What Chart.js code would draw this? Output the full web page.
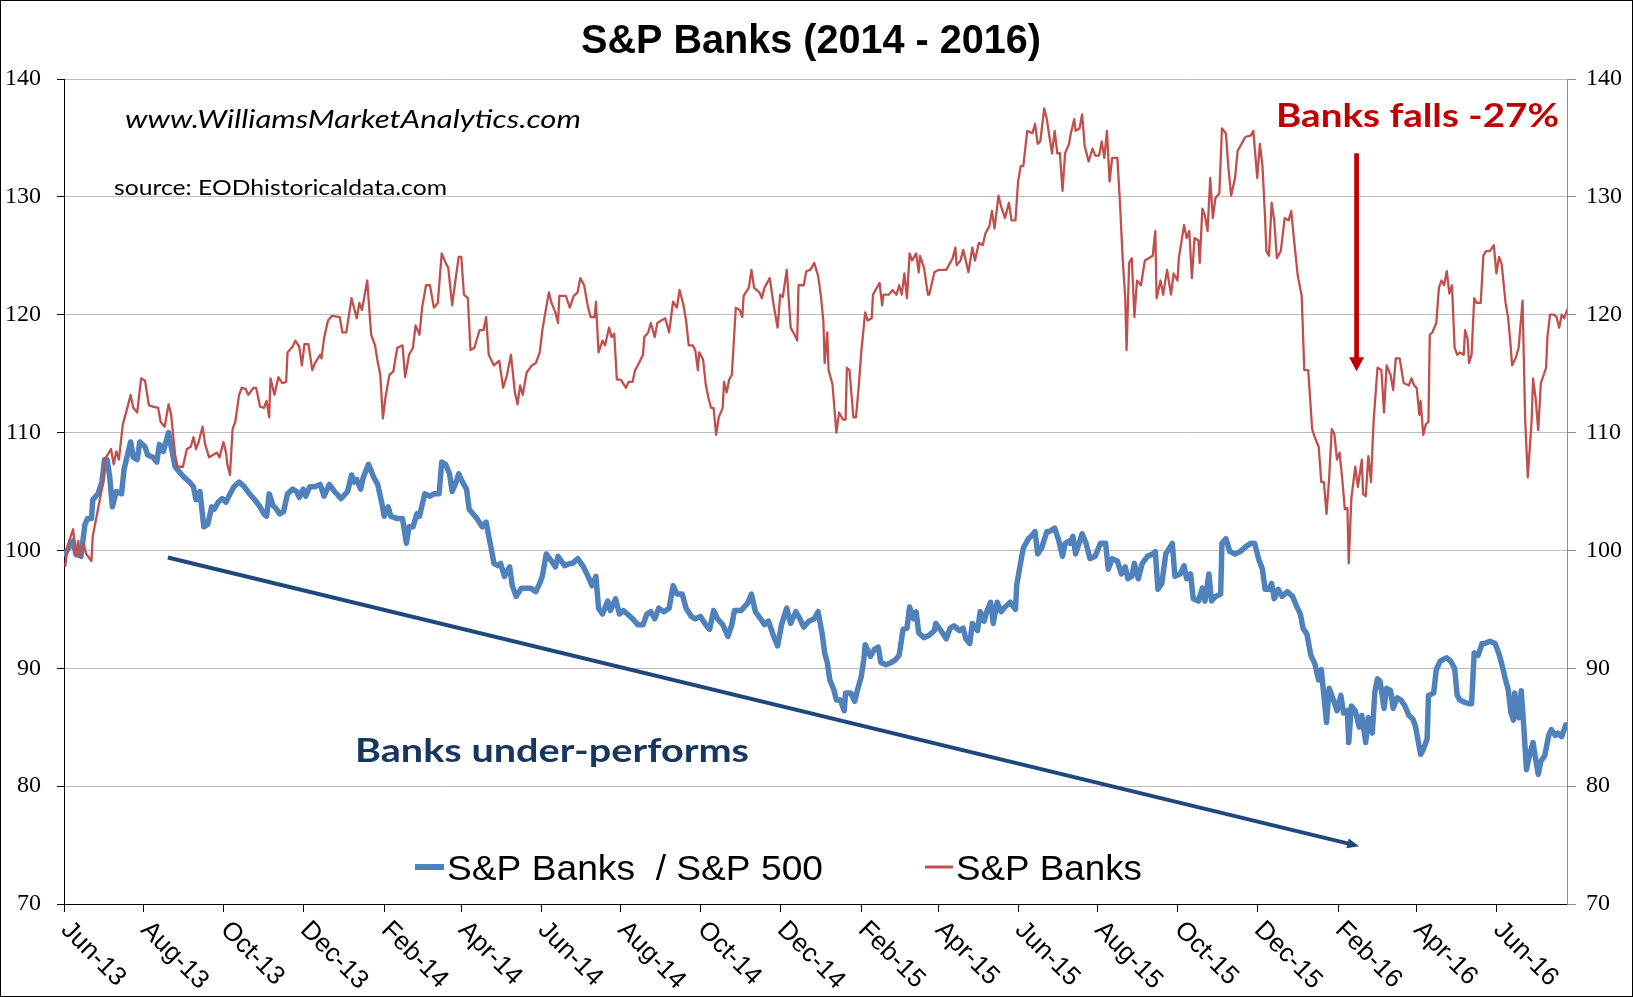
<!DOCTYPE html>
<html>
<head>
<meta charset="utf-8">
<title>S&amp;P Banks (2014 - 2016)</title>
<script src="https://cdn.jsdelivr.net/npm/chart.js@4.4.1/dist/chart.umd.min.js"></script>
<style>
  html, body { margin: 0; padding: 0; background: #fff; }
  canvas { display: block; }
</style>
</head>
<body>
<canvas id="banks_chart" width="1633" height="997"></canvas>
<script>
// x values are day numbers counted from 1 Jun 2013
var tickDays = [0, 61, 122, 183, 245, 304, 365, 426, 487, 548, 610, 669, 730, 791, 852, 913, 975, 1035, 1096];
var tickLabels = ['Jun-13', 'Aug-13', 'Oct-13', 'Dec-13', 'Feb-14', 'Apr-14', 'Jun-14', 'Aug-14', 'Oct-14', 'Dec-14',
  'Feb-15', 'Apr-15', 'Jun-15', 'Aug-15', 'Oct-15', 'Dec-15', 'Feb-16', 'Apr-16', 'Jun-16'];
var dayMax = 1150;
var yTicks = [70, 80, 90, 100, 110, 120, 130, 140];

var ratioLabel = 'S&P Banks  / S&P 500';
var banksLabel = 'S&P Banks';

// S&P Banks / S&P 500 (blue, thick)
var ratioDays = [
  1,4,7,9,13,16,18,21,22,26,29,31,33,35,37,40,44,46,49,51,53,56,58,62,64,68,71,73,76,80,82,85,88,92,96,99,101,104,107,110,113,115,118,121,124,127,130,134,138,142,146,150,153,155,157,160,162,165,168,171,175,178,180,183,185,188,192,196,
  199,203,207,212,217,220,222,224,227,229,233,237,240,243,245,248,250,255,259,262,264,267,270,272,276,280,283,287,289,292,295,297,300,302,305,308,310,313,316,320,323,325,327,329,332,334,337,341,343,346,350,353,357,361,364,366,369,373,376,378,383,387,
  389,393,397,401,404,407,409,412,416,418,422,425,428,431,435,439,443,446,449,452,455,459,463,466,469,473,476,480,483,487,491,494,497,500,504,508,511,513,518,523,526,529,533,536,539,543,546,549,553,556,560,563,566,570,574,577,
  580,582,584,586,589,591,594,597,598,602,605,607,610,612,613,617,620,623,625,629,633,636,639,642,645,647,650,652,654,658,662,666,667,671,675,678,681,685,688,690,693,695,699,701,704,706,709,711,714,717,720,724,728,729,732,734,738,740,743,745,748,752,754,758,761,764,766,769,
  770,772,774,779,782,785,789,793,797,799,802,806,809,812,814,817,819,822,825,829,833,835,837,840,843,848,850,854,857,859,862,864,868,871,873,876,878,881,885,886,889,892,896,900,904,908,911,914,917,919,922,924,926,929,932,936,940,943,946,948,951,954,957,960,
  962,966,968,972,974,977,979,982,983,985,988,991,993,996,998,1001,1003,1005,1007,1010,1012,1015,1017,1020,1023,1026,1029,1032,1034,1038,1040,1043,1044,1048,1050,1053,1056,1058,1061,1064,1066,1068,1072,1075,1077,1079,1082,1085,1087,1091,1095,1098,1100,1103,1105,1107,1109,1110,1113,1115,1117,1119,1121,1124,1126,1128,1130,1133,1136,1138,1141,1143,1146,1149
];
var ratioValues = [
  99.7,100.3,100.8,99.7,99.5,102.2,102.7,102.7,104.3,104.8,105.8,107.7,107.7,106.2,103.7,105.0,104.8,106.9,108.3,109.2,107.9,107.7,109.2,108.8,108.1,107.9,107.5,109.0,108.4,110.0,108.8,107.1,106.7,106.2,105.8,105.4,104.3,105.0,102.0,102.2,103.7,103.5,104.1,104.4,104.1,104.8,105.4,105.8,105.4,104.8,104.3,103.7,103.1,102.9,104.8,103.8,103.6,103.1,103.3,104.8,105.2,105.0,104.5,105.2,104.6,105.4,105.4,105.6,
  104.6,105.6,105.0,104.4,105.0,106.4,105.8,106.0,105.2,106.2,107.3,106.2,105.6,104.1,102.9,103.7,102.9,102.7,102.7,100.6,102.0,102.0,103.1,102.9,104.8,104.6,104.8,104.8,107.5,107.3,106.5,105.0,105.8,106.5,105.8,105.2,103.5,103.1,102.7,102.0,102.4,101.2,100.1,98.9,98.7,98.9,97.8,98.6,97.0,96.1,96.8,96.8,96.8,96.5,97.2,97.8,99.7,99.1,98.6,99.5,98.7,98.9,
  98.9,99.3,98.7,97.8,97.0,97.8,95.1,94.6,95.7,94.9,95.9,94.6,94.9,94.6,94.2,93.7,93.7,94.6,94.8,94.2,95.1,94.8,95.1,97.0,96.3,96.3,95.1,94.4,94.2,94.4,93.7,93.3,94.9,94.2,93.7,92.7,93.7,94.9,94.9,95.5,96.3,94.8,94.2,93.7,94.0,92.7,91.9,93.7,95.1,93.8,94.8,94.2,93.5,94.0,94.2,94.8,
  93.0,91.3,90.5,89.0,88.2,87.3,87.3,86.4,87.9,87.9,87.2,88.1,89.3,90.8,92.0,91.0,91.6,91.8,90.5,90.3,90.5,90.7,91.1,93.3,93.4,95.2,94.2,94.8,93.0,92.6,92.8,93.2,93.8,93.2,92.5,93.4,93.6,93.2,93.4,92.5,92.1,93.8,93.2,94.8,94.0,94.8,95.6,93.8,95.6,94.8,95.2,95.6,95.0,97.1,99.0,100.2,101.0,101.2,101.6,99.7,100.2,101.6,101.6,101.9,100.9,99.5,100.6,100.8,
  100.6,101.2,99.7,101.4,100.6,99.3,99.5,100.6,100.6,98.4,99.3,99.1,98.0,98.6,97.6,97.8,98.9,97.6,98.9,99.5,99.7,99.9,96.7,97.2,99.7,100.6,97.8,98.0,98.7,97.6,98.0,95.9,95.7,96.8,95.7,98.0,95.7,96.1,96.3,100.6,101.0,99.9,99.7,99.9,100.3,100.6,100.6,99.3,98.4,96.7,96.7,97.2,95.9,96.7,96.1,96.5,96.1,95.3,94.6,93.4,92.9,91.1,90.4,89.0,
  89.9,85.4,88.3,87.1,86.4,87.7,86.2,86.4,83.7,86.8,86.4,85.0,86.0,83.7,85.8,84.5,88.0,89.1,88.9,86.6,88.3,88.1,86.6,87.5,87.3,86.8,86.0,85.7,85.1,82.7,83.1,84.0,87.7,87.9,89.9,90.6,90.8,90.9,90.6,90.0,87.7,87.3,87.1,87.0,87.0,91.3,91.1,92.1,92.1,92.3,92.1,91.2,90.4,89.0,88.2,86.3,85.6,87.9,85.8,88.1,84.9,81.4,82.5,83.7,82.3,81.0,82.1,82.6,84.3,84.8,84.3,84.5,84.2,85.2
];

// S&P Banks (red, thin)
var banksDays = [
  1,3,7,9,11,12,15,17,21,22,26,30,31,36,38,40,42,45,48,51,53,56,59,62,65,68,72,74,77,80,82,85,87,91,94,97,99,101,103,106,108,111,114,117,119,122,124,125,127,129,131,134,136,139,141,145,147,150,153,155,157,158,161,164,167,170,171,175,177,180,182,184,187,190,192,196,
  197,199,202,205,211,213,216,220,224,226,228,232,235,238,240,242,244,246,249,252,255,259,261,264,267,269,272,274,277,280,283,286,289,292,294,297,299,302,304,306,309,311,314,318,321,323,325,329,333,336,339,342,345,347,349,351,354,358,361,364,366,371,373,376,378,379,384,387,
  390,393,395,398,401,403,406,407,409,412,414,417,419,421,423,426,430,432,435,437,440,443,444,447,449,452,454,457,460,463,466,469,471,474,476,478,481,483,485,486,489,491,493,495,497,499,501,504,505,507,509,511,513,514,517,519,520,524,526,528,532,534,536,540,543,546,548,550,553,556,559,561,562,566,568,571,574,577,
  579,581,582,584,585,588,590,591,593,596,598,599,601,604,606,608,610,613,615,618,619,624,626,627,631,634,637,639,641,643,645,647,649,652,654,655,658,661,662,666,669,675,677,680,682,683,686,688,690,692,695,697,700,703,705,708,710,712,715,717,720,723,725,728,730,732,734,737,741,743,745,747,750,752,754,756,758,760,762,764,766,769,
  770,773,774,777,779,781,784,787,789,792,794,796,798,800,802,806,808,810,812,813,815,817,819,821,824,827,830,833,835,836,839,841,844,847,849,852,853,857,859,861,863,865,868,869,871,873,875,877,879,881,884,886,889,891,893,896,898,900,904,908,910,913,915,917,919,920,922,924,926,928,931,934,937,939,941,944,947,949,952,955,957,960,
  962,964,966,968,970,972,974,976,978,980,982,983,985,988,990,993,994,996,998,1000,1002,1005,1008,1010,1012,1015,1017,1019,1022,1025,1029,1031,1033,1035,1037,1038,1040,1042,1044,1045,1047,1050,1052,1054,1056,1058,1060,1062,1064,1066,1068,1071,1072,1074,1075,1077,1079,1081,1084,1086,1088,1091,1094,1096,1098,1100,1103,1105,1107,1108,1111,1113,1116,1118,1120,1123,1124,1126,1128,1130,1134,1135,1137,1140,1142,1144,1146,1148,1150
];
var banksValues = [
  98.7,100.5,101.8,99.5,100.8,99.5,100.6,99.7,99.1,101.2,103.5,105.8,107.7,108.6,107.3,108.4,107.7,110.7,111.9,113.2,112.1,111.7,114.6,114.4,112.3,112.2,112.1,110.9,110.5,112.4,111.5,108.1,107.1,107.1,108.6,108.8,109.6,108.6,109.2,110.5,109.0,107.9,108.1,108.3,107.9,109.2,108.3,107.3,106.4,110.3,110.9,113.2,113.8,113.7,113.2,113.8,113.8,112.2,112.1,112.7,111.3,114.6,113.2,114.7,114.2,114.3,116.8,117.3,117.8,117.3,115.7,117.5,117.5,115.3,115.9,116.6,
  116.3,118.0,119.5,119.9,119.8,118.5,118.5,121.4,119.7,121.0,120.4,122.9,118.3,117.4,116.0,114.9,111.2,113.0,114.9,115.2,117.2,117.4,114.7,116.6,117.2,119.1,118.3,120.6,122.5,122.5,120.6,121.0,125.2,124.4,124.0,120.8,122.5,124.9,124.9,121.7,121.4,117.0,117.2,118.7,118.7,119.8,116.6,115.7,116.1,113.8,114.9,116.6,113.4,112.4,114.0,113.2,115.1,115.7,115.9,116.8,118.7,121.9,121.0,120.2,119.3,121.6,121.6,120.6,
  121.6,121.9,123.1,122.5,120.6,119.8,119.8,121.1,116.8,117.8,117.4,118.9,118.1,118.4,114.5,114.5,113.8,114.3,114.3,115.3,115.9,116.6,118.1,118.5,119.3,118.1,119.3,119.5,119.7,118.5,121.1,120.6,122.1,120.8,119.5,117.4,117.4,117.0,115.3,116.8,116.2,114.1,113.0,112.1,112.1,109.8,111.3,112.1,114.3,113.4,114.5,114.9,118.7,120.6,120.4,119.8,121.6,122.3,123.8,122.3,121.9,121.4,122.3,123.1,120.8,118.9,121.7,121.5,123.8,118.9,118.3,117.8,122.5,122.5,123.7,123.8,124.4,123.3,
  121.7,119.5,115.9,118.5,115.3,114.1,111.3,110.0,111.7,111.1,111.1,115.5,115.3,111.3,111.3,113.8,116.8,120.2,119.5,119.7,121.7,122.7,120.8,121.7,121.7,122.1,121.7,122.5,121.7,123.5,121.4,125.2,124.6,125.2,123.6,125.0,124.0,121.7,121.7,123.6,123.8,123.8,124.2,124.8,125.7,124.2,124.6,125.5,124.6,123.6,125.7,124.6,126.1,125.9,126.9,127.5,128.8,127.3,130.1,129.2,128.2,129.5,128.0,128.0,131.3,132.6,132.6,135.6,135.4,136.2,134.5,134.7,137.5,136.6,135.1,133.7,135.6,133.7,133.7,130.5,133.7,134.5,
  135.2,136.6,135.6,135.8,137.0,134.3,133.0,134.1,133.5,133.5,134.7,133.3,135.6,131.3,133.3,133.3,129.4,124.8,121.4,117.0,124.4,124.8,119.8,122.9,122.5,124.6,124.8,125.0,127.1,121.4,122.9,121.7,123.8,121.7,123.5,122.9,124.8,127.6,126.5,127.1,123.1,126.5,126.3,124.4,129.0,128.4,127.1,131.6,128.2,129.9,130.3,135.8,135.4,132.4,130.1,131.6,133.9,134.3,135.1,135.2,135.6,131.6,134.5,132.6,128.2,125.4,125.0,129.5,128.0,124.8,125.4,128.2,128.0,128.8,126.5,123.3,121.6,115.3,115.3,110.3,109.6,108.8,
  105.8,105.8,103.1,106.1,110.3,109.9,107.7,108.3,106.1,103.5,103.6,98.9,104.4,107.1,105.4,107.7,104.8,104.6,108.0,105.8,110.9,115.5,115.3,111.7,115.7,114.9,113.6,116.3,116.3,114.2,114.0,114.6,114.0,113.8,111.5,112.7,109.8,110.7,110.9,118.3,118.5,119.3,122.3,122.9,122.5,123.7,121.8,122.5,117.2,116.6,116.8,116.6,118.7,117.9,115.9,116.6,121.4,121.0,121.0,125.0,125.4,125.4,125.9,123.5,124.9,124.3,121.0,119.7,117.2,115.7,116.4,117.2,121.2,111.1,106.2,111.1,114.6,112.9,110.2,114.2,115.5,118.1,120.0,120.0,119.8,118.9,120.0,119.7,120.4
];

// arrow anchors as [day, value]
var trendFrom = [79.5, 99.4];
var trendTo = [991, 74.9];
var fallFrom = [989, 133.7];
var fallTo = [989, 115.2];

function to_points(days, values)
{
  var pts = [];
  for (var i = 0; i < days.length; i++)
    pts.push({x: days[i], y: values[i]});
  return pts;
}

// draw text squeezed/stretched to a given width
function fit_text(ctx, text, font, color, x, baseline, width)
{
  ctx.save();
  ctx.font = font;
  ctx.fillStyle = color;
  ctx.textAlign = 'left';
  ctx.textBaseline = 'alphabetic';
  var w = ctx.measureText(text).width;
  ctx.translate(x, baseline);
  ctx.scale(width / w, 1);
  ctx.fillText(text, 0, 0);
  ctx.restore();
}

function draw_arrow(ctx, x1, y1, x2, y2, lw, headLen, headHalf, color)
{
  var dx = x2 - x1, dy = y2 - y1;
  var len = Math.sqrt(dx * dx + dy * dy);
  var ux = dx / len, uy = dy / len;
  var bx = x2 - ux * headLen, by = y2 - uy * headLen;
  ctx.save();
  ctx.strokeStyle = color;
  ctx.fillStyle = color;
  ctx.lineWidth = lw;
  ctx.lineCap = 'butt';
  ctx.beginPath();
  ctx.moveTo(x1, y1);
  ctx.lineTo(bx + ux, by + uy);
  ctx.stroke();
  ctx.beginPath();
  ctx.moveTo(x2, y2);
  ctx.lineTo(bx - uy * headHalf, by + ux * headHalf);
  ctx.lineTo(bx + uy * headHalf, by - ux * headHalf);
  ctx.closePath();
  ctx.fill();
  ctx.restore();
}

var decor = {
  id: 'decor',
  beforeDraw: function (chart)
  {
    var ctx = chart.ctx;
    ctx.save();
    ctx.fillStyle = '#fff';
    ctx.fillRect(0, 0, chart.width, chart.height);
    ctx.restore();
  },
  afterDatasetsDraw: function (chart)
  {
    var ctx = chart.ctx;
    var xs = chart.scales.x, ys = chart.scales.y;
    draw_arrow(ctx, xs.getPixelForValue(trendFrom[0]), ys.getPixelForValue(trendFrom[1]),
      xs.getPixelForValue(trendTo[0]), ys.getPixelForValue(trendTo[1]), 4, 12, 5, '#1F497D');
    draw_arrow(ctx, xs.getPixelForValue(fallFrom[0]), ys.getPixelForValue(fallFrom[1]),
      xs.getPixelForValue(fallTo[0]), ys.getPixelForValue(fallTo[1]), 4.7, 14, 7.5, '#C00000');
  },
  afterDraw: function (chart)
  {
    var ctx = chart.ctx;
    var xs = chart.scales.x;
    var area = chart.chartArea;

    // rotated month labels
    ctx.save();
    ctx.font = '26px "Liberation Sans", Arial, sans-serif';
    ctx.fillStyle = '#000';
    ctx.textAlign = 'left';
    ctx.textBaseline = 'alphabetic';
    for (var i = 0; i < tickDays.length; i++)
    {
      var px = xs.getPixelForValue(tickDays[i]);
      ctx.save();
      ctx.translate(px - 4, area.bottom + 27);
      ctx.rotate(Math.PI / 4);
      ctx.fillText(tickLabels[i], 0, 0);
      ctx.restore();
    }
    ctx.restore();

    fit_text(ctx, 'S&P Banks (2014 - 2016)', 'bold 40px "Liberation Sans", Arial, sans-serif', '#000', 581, 53, 460);
    fit_text(ctx, 'www.WilliamsMarketAnalytics.com', 'italic 25px Lato, "Open Sans", sans-serif', '#000', 125, 128, 456);
    fit_text(ctx, 'source: EODhistoricaldata.com', '21px Lato, "Open Sans", sans-serif', '#000', 114, 195, 333);
    fit_text(ctx, 'Banks falls -27%', 'bold 33px Lato, "Open Sans", sans-serif', '#C00000', 1276, 127, 283);
    fit_text(ctx, 'Banks under-performs', 'bold 33px Lato, "Open Sans", sans-serif', '#17375E', 355, 762, 394);

    // legend
    var sets = chart.data.datasets;
    ctx.save();
    ctx.lineCap = 'butt';
    ctx.strokeStyle = sets[1].borderColor;
    ctx.lineWidth = 6;
    ctx.beginPath(); ctx.moveTo(415, 867); ctx.lineTo(444, 867); ctx.stroke();
    ctx.strokeStyle = sets[0].borderColor;
    ctx.lineWidth = 3;
    ctx.beginPath(); ctx.moveTo(925, 867); ctx.lineTo(953, 867); ctx.stroke();
    ctx.restore();
    fit_text(ctx, sets[1].label, '35px "Liberation Sans", Arial, sans-serif', '#000', 447, 880, 376);
    fit_text(ctx, sets[0].label, '35px "Liberation Sans", Arial, sans-serif', '#000', 956, 880, 186);

    // outer frame
    ctx.save();
    ctx.strokeStyle = '#000';
    ctx.lineWidth = 1;
    ctx.strokeRect(0.5, 0.5, chart.width - 1, chart.height - 1);
    ctx.restore();
  }
};

var tickFont = { family: '"Liberation Serif", "Times New Roman", serif', size: 24 };

window.onload = function ()
{
  var ctx = document.getElementById('banks_chart').getContext('2d');
  var banks_chart = new Chart(ctx, {
    type: 'line',
    data: {
      datasets: [
        {
          label: banksLabel,
          data: to_points(banksDays, banksValues),
          borderColor: '#C0504D',
          borderWidth: 2.3,
          pointRadius: 0,
          tension: 0,
          order: 0,
          yAxisID: 'y'
        },
        {
          label: ratioLabel,
          data: to_points(ratioDays, ratioValues),
          borderColor: '#4F81BD',
          borderWidth: 5.5,
          pointRadius: 0,
          tension: 0,
          order: 1,
          yAxisID: 'y'
        }
      ]
    },
    options: {
      responsive: false,
      animation: false,
      devicePixelRatio: 1,
      layout: { padding: { top: 79, left: 0, right: 0, bottom: 0 } },
      elements: { line: { borderJoinStyle: 'round', borderCapStyle: 'round' } },
      plugins: {
        legend: { display: false },
        tooltip: { enabled: false },
        title: { display: false }
      },
      scales: {
        x: {
          type: 'linear',
          min: 0,
          max: dayMax,
          afterBuildTicks: function (axis) { axis.ticks = tickDays.map(function (d) { return {value: d}; }); },
          afterFit: function (axis) { axis.height = 93; },
          ticks: { display: false },
          grid: { drawOnChartArea: false, drawTicks: true, tickLength: 8, color: '#000', lineWidth: 1 },
          border: { display: true, color: '#000', width: 1 }
        },
        y: {
          position: 'left',
          min: 70,
          max: 140,
          afterBuildTicks: function (axis) { axis.ticks = yTicks.map(function (v) { return {value: v}; }); },
          afterFit: function (axis) { axis.width = 64; },
          ticks: { padding: 16, color: '#000', font: tickFont },
          grid: { color: '#bdbdbd', tickColor: '#000', tickLength: 7, lineWidth: 1 },
          border: { color: '#000', width: 1 }
        },
        y2: {
          position: 'right',
          min: 70,
          max: 140,
          afterBuildTicks: function (axis) { axis.ticks = yTicks.map(function (v) { return {value: v}; }); },
          afterFit: function (axis) { axis.width = 66; },
          ticks: { padding: 10, color: '#000', font: tickFont },
          grid: { drawOnChartArea: false, color: '#8c8c8c', tickLength: 9 },
          border: { color: '#8c8c8c', width: 1 }
        }
      }
    },
    plugins: [decor]
  });
};
</script>
</body>
</html>
